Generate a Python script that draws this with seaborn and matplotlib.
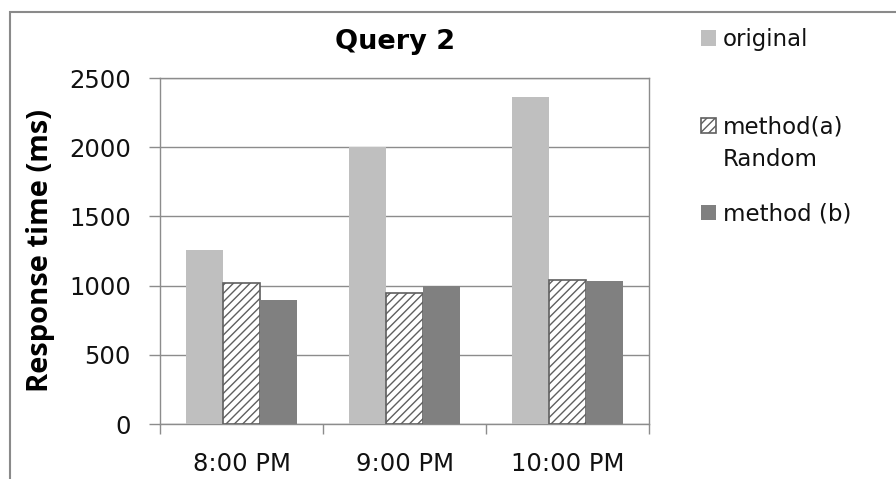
import matplotlib
matplotlib.use("Agg")
import matplotlib.pyplot as plt
from matplotlib.patches import Rectangle
import seaborn as sns
import pandas as pd

# ---- data ----
times = ["8:00 PM", "9:00 PM", "10:00 PM"]
series_names = ["original", "method(a)", "method (b)"]
original = [1260, 2000, 2360]
method_a = [1020, 950, 1040]
method_b = [895, 1000, 1035]
y_ticks = [0, 500, 1000, 1500, 2000, 2500]

rows = []
for name, vals in zip(series_names, [original, method_a, method_b]):
    for t, v in zip(times, vals):
        rows.append({"time": t, "series": name, "value": v})
df = pd.DataFrame(rows)

sns.set_theme(style="white")
plt.rcParams["font.family"] = ["DejaVu Sans"]
plt.rcParams["hatch.linewidth"] = 1.0

W, H = 896, 479
fig = plt.figure(figsize=(W / 100, H / 100), dpi=100)
fig.patch.set_facecolor("white")
ax = fig.add_axes([160 / W, 1 - 424 / H, (649 - 160) / W, (424 - 78) / H])

palette = {"original": "#BFBFBF", "method(a)": "#FFFFFF", "method (b)": "#808080"}
sns.barplot(data=df, x="time", y="value", hue="series", hue_order=series_names,
            order=times, palette=palette, width=0.676, saturation=1,
            ax=ax, legend=False, zorder=3)

for i, cont in enumerate(ax.containers):
    for p in cont.patches:
        if i == 1:
            p.set_hatch("////")
            p.set_edgecolor("#5f5f5f")
            p.set_linewidth(1.2)
        else:
            p.set_linewidth(0)

gcol = "#8c8c8c"
ax.set_ylim(0, 2500)
ax.set_xlim(-0.5, 2.5)
ax.set_yticks(y_ticks)
ax.set_yticklabels([str(v) for v in y_ticks])
ax.yaxis.grid(True, color=gcol, linewidth=1.0, zorder=0)
ax.set_axisbelow(True)
for s in ax.spines.values():
    s.set_color(gcol)
    s.set_linewidth(1.0)
    s.set_visible(True)

ax.tick_params(axis="y", which="major", length=8, width=1, color=gcol,
               labelsize=17.5, labelcolor="#111111", pad=13, left=True, direction="out")
ax.tick_params(axis="x", which="major", length=0, labelsize=17.5,
               labelcolor="#111111", pad=20)
ax.set_xticks([-0.5, 0.5, 1.5, 2.5], minor=True)
ax.tick_params(axis="x", which="minor", length=7, width=1, color=gcol,
               bottom=True, direction="out")
ax.set_xlabel("")
ax.set_ylabel("Response time (ms)", fontsize=21, fontweight="bold",
              family=["Open Sans", "DejaVu Sans"], color="#000000")
ax.yaxis.label.set_va("center")
ax.yaxis.set_label_coords((41 - 160) / (649 - 160), 0.5)

ax.set_title("Query 2", fontsize=19.5, fontweight="bold", color="#000000",
             x=(395 - 160) / (649 - 160), y=1 + 28 / 346, va="center")

handles = [cont.patches[0] for cont in ax.containers]
leg = fig.legend(handles, series_names, loc="upper left",
                 bbox_to_anchor=(701 / W, 1 - 28 / H), frameon=False,
                 fontsize=16.5, handlelength=0.65, handleheight=0.65,
                 handletextpad=0.3, labelspacing=2.81, borderaxespad=0,
                 borderpad=0)
fig.text(723 / W, 1 - 159 / H, "Random", fontsize=16.5, va="center", ha="left",
         color="#111111")
for t in leg.get_texts():
    t.set_color("#111111")

# outer chart frame
fig.patches.append(Rectangle((10 / W, -0.2), 1.5, 0.2 + (1 - 11.5 / H),
                             transform=fig.transFigure, fill=False,
                             edgecolor="#8a8a8a", linewidth=1.5, zorder=0))

fig.savefig("out.png", dpi=100)
